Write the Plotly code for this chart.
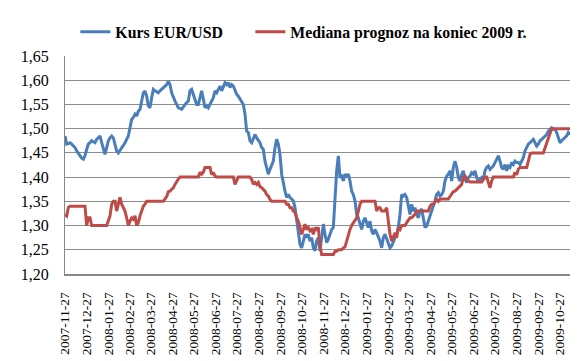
import pandas as pd
import plotly.graph_objects as go

start_date = "2007-11-27"
end_date = "2009-11-10"

kurs_eur_usd = [
    1.485, 1.468, 1.469, 1.471, 1.468, 1.464, 1.461, 1.454, 1.448, 1.444,
    1.439, 1.437, 1.444, 1.457, 1.468, 1.471, 1.475, 1.473, 1.471, 1.478,
    1.481, 1.485, 1.471, 1.461, 1.447, 1.461, 1.475, 1.481, 1.485, 1.481,
    1.468, 1.454, 1.450, 1.455, 1.461, 1.466, 1.471, 1.478, 1.485, 1.502,
    1.519, 1.523, 1.530, 1.526, 1.536, 1.540, 1.557, 1.574, 1.578, 1.567,
    1.547, 1.543, 1.564, 1.581, 1.578, 1.576, 1.574, 1.578, 1.581, 1.585,
    1.588, 1.591, 1.598, 1.591, 1.574, 1.564, 1.557, 1.550, 1.543, 1.542,
    1.540, 1.545, 1.550, 1.554, 1.557,
    1.578, 1.581, 1.571, 1.557, 1.550, 1.550, 1.564, 1.578, 1.561, 1.543,
    1.547, 1.543, 1.550, 1.557, 1.564, 1.578, 1.574, 1.581, 1.588, 1.578,
    1.585, 1.595, 1.591, 1.595, 1.585, 1.591, 1.588, 1.578, 1.571, 1.567,
    1.561, 1.557, 1.550, 1.530, 1.495, 1.492, 1.475, 1.471, 1.478, 1.488,
    1.481, 1.475, 1.471, 1.461, 1.457, 1.433, 1.420, 1.406, 1.416, 1.426,
    1.433, 1.461, 1.478, 1.468, 1.447, 1.406, 1.385, 1.371, 1.358, 1.364,
    1.358, 1.354, 1.351, 1.337, 1.309, 1.282, 1.261, 1.254, 1.268, 1.282,
    1.275, 1.282, 1.268, 1.275, 1.254, 1.248, 1.268, 1.275,
    1.248, 1.282, 1.303, 1.282, 1.265, 1.272, 1.282, 1.292, 1.296, 1.358,
    1.413, 1.444, 1.399, 1.402, 1.392, 1.406, 1.402, 1.406, 1.392, 1.371,
    1.364, 1.351, 1.323, 1.316, 1.303, 1.292, 1.309, 1.316, 1.306, 1.296,
    1.309, 1.289, 1.282, 1.292, 1.285, 1.278, 1.268, 1.254, 1.275, 1.282,
    1.272, 1.261, 1.254, 1.258, 1.268, 1.275, 1.282, 1.296, 1.323, 1.364,
    1.361, 1.364, 1.358, 1.337, 1.323, 1.344, 1.330, 1.337, 1.323, 1.316,
    1.330, 1.334, 1.316, 1.296, 1.299, 1.309, 1.320, 1.330, 1.337, 1.351,
    1.364, 1.368, 1.361, 1.364, 1.371, 1.392, 1.402, 1.406,
    1.413, 1.392, 1.420, 1.433, 1.420, 1.399, 1.392, 1.406, 1.413, 1.395,
    1.389, 1.399, 1.402, 1.409, 1.406, 1.413, 1.399, 1.392, 1.395, 1.399,
    1.395, 1.413, 1.420, 1.423, 1.416, 1.420, 1.423, 1.430, 1.437, 1.444,
    1.433, 1.420, 1.416, 1.426, 1.413, 1.423, 1.420, 1.430, 1.426, 1.433,
    1.430, 1.430, 1.426, 1.433, 1.440, 1.454, 1.461, 1.468, 1.471, 1.475,
    1.478, 1.471, 1.464, 1.468, 1.475, 1.478, 1.481, 1.485, 1.488, 1.495,
    1.499, 1.502, 1.499, 1.499, 1.492, 1.481, 1.471, 1.475, 1.478, 1.481,
    1.485, 1.492, 1.488,
]

mediana_prognoz = [
    1.323, 1.320, 1.337, 1.340, 1.340, 1.340, 1.340, 1.340, 1.340, 1.340,
    1.340, 1.340, 1.340, 1.300, 1.316, 1.316, 1.300, 1.300, 1.300, 1.300,
    1.300, 1.300, 1.300, 1.300, 1.300, 1.300, 1.310, 1.320, 1.344, 1.350,
    1.350, 1.330, 1.344, 1.358, 1.344, 1.337, 1.330, 1.316, 1.300, 1.309,
    1.316, 1.313, 1.320, 1.300, 1.306, 1.320, 1.330, 1.340, 1.344, 1.350,
    1.350, 1.350, 1.350, 1.350, 1.350, 1.350, 1.350, 1.350, 1.350, 1.350,
    1.355, 1.360, 1.370, 1.371, 1.375, 1.378, 1.385, 1.392, 1.396, 1.400,
    1.400, 1.400, 1.400, 1.400, 1.400,
    1.400, 1.400, 1.400, 1.400, 1.400, 1.400, 1.410, 1.406, 1.410, 1.420,
    1.420, 1.420, 1.420, 1.405, 1.410, 1.402, 1.400, 1.400, 1.400, 1.400,
    1.400, 1.400, 1.400, 1.400, 1.400, 1.400, 1.400, 1.385, 1.392, 1.400,
    1.400, 1.400, 1.400, 1.400, 1.400, 1.400, 1.400, 1.395, 1.385, 1.389,
    1.385, 1.389, 1.380, 1.378, 1.375, 1.371, 1.364, 1.361, 1.354, 1.350,
    1.350, 1.350, 1.350, 1.350, 1.350, 1.350, 1.350, 1.350, 1.344, 1.344,
    1.337, 1.337, 1.330, 1.327, 1.316, 1.309, 1.296, 1.282, 1.292, 1.303,
    1.292, 1.296, 1.289, 1.292, 1.282, 1.296, 1.292, 1.296,
    1.258, 1.240, 1.240, 1.240, 1.240, 1.240, 1.240, 1.240, 1.240, 1.247,
    1.247, 1.250, 1.250, 1.250, 1.254, 1.256, 1.268, 1.282, 1.292, 1.300,
    1.306, 1.310, 1.316, 1.330, 1.344, 1.350, 1.350, 1.350, 1.350, 1.350,
    1.350, 1.350, 1.350, 1.350, 1.330, 1.337, 1.337, 1.330, 1.330, 1.330,
    1.337, 1.310, 1.282, 1.268, 1.275, 1.285, 1.275, 1.296, 1.292, 1.300,
    1.300, 1.300, 1.306, 1.310, 1.316, 1.316, 1.320, 1.323, 1.330, 1.330,
    1.330, 1.330, 1.330, 1.330, 1.330, 1.330, 1.340, 1.344, 1.344, 1.350,
    1.354, 1.350, 1.354, 1.355, 1.355, 1.355, 1.355, 1.355,
    1.360, 1.364, 1.370, 1.371, 1.375, 1.378, 1.382, 1.385, 1.400, 1.402,
    1.395, 1.392, 1.390, 1.390, 1.390, 1.390, 1.390, 1.390, 1.390, 1.390,
    1.395, 1.400, 1.400, 1.389, 1.378, 1.392, 1.400, 1.400, 1.400, 1.400,
    1.400, 1.400, 1.400, 1.400, 1.400, 1.400, 1.400, 1.400, 1.400, 1.410,
    1.405, 1.416, 1.420, 1.420, 1.420, 1.420, 1.420, 1.433, 1.447, 1.450,
    1.450, 1.450, 1.450, 1.450, 1.450, 1.450, 1.450, 1.460, 1.471, 1.478,
    1.488, 1.500, 1.500, 1.500, 1.500, 1.500, 1.500, 1.500, 1.500, 1.500,
    1.500, 1.500, 1.500,
]

tick_labels = [
    "2007-11-27", "2007-12-27", "2008-01-27", "2008-02-27", "2008-03-27",
    "2008-04-27", "2008-05-27", "2008-06-27", "2008-07-27", "2008-08-27",
    "2008-09-27", "2008-10-27", "2008-11-27", "2008-12-27", "2009-01-27",
    "2009-02-27", "2009-03-27", "2009-04-27", "2009-05-27", "2009-06-27",
    "2009-07-27", "2009-08-27", "2009-09-27", "2009-10-27",
]

y_ticks = [1.20, 1.25, 1.30, 1.35, 1.40, 1.45, 1.50, 1.55, 1.60, 1.65]

SERIF = "Liberation Serif, Times New Roman, Times, serif"

dates = pd.date_range(start_date, end_date, periods=len(kurs_eur_usd))

fig = go.Figure()
fig.add_trace(go.Scatter(
    x=dates, y=kurs_eur_usd, mode="lines", name="Kurs EUR/USD",
    line=dict(color="#4a7ebb", width=3), legendwidth=130,
))
fig.add_trace(go.Scatter(
    x=dates, y=mediana_prognoz, mode="lines", name="Mediana prognoz na koniec 2009 r.",
    line=dict(color="#be4b48", width=3),
))

fig.update_layout(
    width=586, height=361,
    margin=dict(l=57, r=24, t=48, b=95, autoexpand=False),
    paper_bgcolor="white", plot_bgcolor="white",
    separators=", ",
    showlegend=True,
    legend=dict(
        orientation="h", x=0.473, xanchor="center", y=1.11, yanchor="middle",
        font=dict(family=SERIF, size=15.8, color="black", weight="bold"),
        bgcolor="rgba(0,0,0,0)", itemwidth=30,
    ),
    font=dict(family=SERIF, color="black"),
)

fig.update_xaxes(
    type="date",
    range=[start_date, end_date],
    tickmode="array", tickvals=tick_labels, ticktext=tick_labels,
    tickangle=-90, tickfont=dict(family=SERIF, size=13.5, color="black"),
    showgrid=False, showline=True, linecolor="#868686", linewidth=1.5,
    ticks="", ticklabelstandoff=11, zeroline=False, automargin=False,
)
fig.update_yaxes(
    range=[1.20, 1.65], tickmode="array", tickvals=y_ticks, tickformat=".2f",
    tickfont=dict(family=SERIF, size=16, color="black"),
    showgrid=True, gridcolor="#8c8c8c", gridwidth=1,
    showline=True, linecolor="#868686", linewidth=1,
    ticks="", ticklabelstandoff=12, zeroline=False, automargin=False,
)

fig.write_html("out.html")
